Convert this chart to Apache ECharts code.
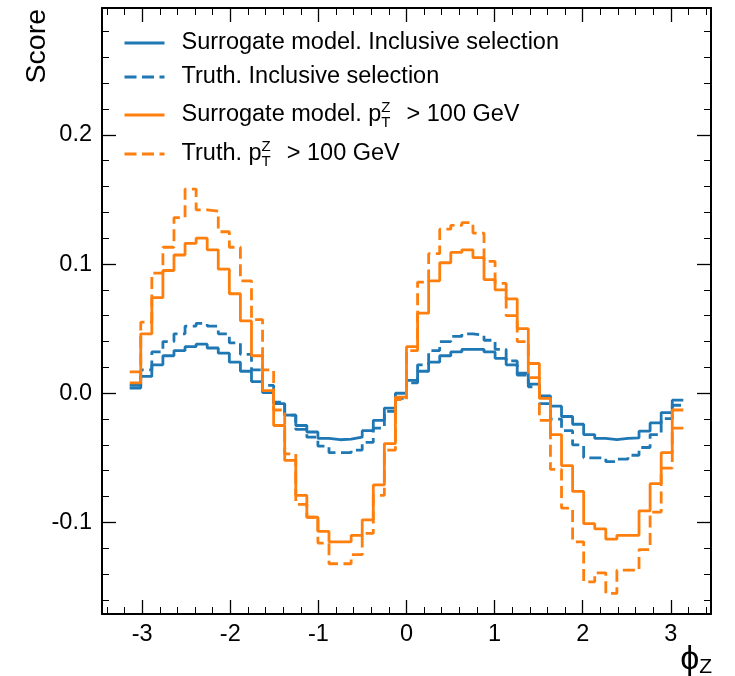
<!DOCTYPE html>
<html><head><meta charset="utf-8">
<script src="https://cdn.jsdelivr.net/npm/echarts@6/dist/echarts.min.js"></script>
<style>html,body{margin:0;padding:0;background:#fff}#c{width:735px;height:676px}</style>
</head><body><div id="c"></div>
<script>
// ---- data (50 bins on [-pi, pi]) ----
const nBins = 50;
const surrogateInclusive = [0.004,0.013,0.022,0.029,0.033,0.036,0.038,0.035,0.031,0.024,0.017,0.009,0.0005,-0.008,-0.017,-0.025,-0.030,-0.035,-0.036,-0.0355,-0.034,-0.029,-0.021,-0.0115,0.000,0.010,0.017,0.024,0.029,0.032,0.034,0.034,0.032,0.027,0.022,0.0155,0.007,-0.002,-0.010,-0.018,-0.024,-0.032,-0.035,-0.036,-0.035,-0.0346,-0.0294,-0.023,-0.015,-0.0054];
const truthInclusive = [0.006,0.018,0.032,0.040,0.046,0.052,0.054,0.052,0.046,0.039,0.030,0.018,0.006,-0.007,-0.017,-0.028,-0.034,-0.041,-0.046,-0.046,-0.044,-0.038,-0.027,-0.014,-0.004,0.008,0.022,0.033,0.040,0.044,0.046,0.045,0.041,0.034,0.025,0.014,0.005,-0.008,-0.020,-0.029,-0.040,-0.050,-0.050,-0.053,-0.051,-0.048,-0.042,-0.032,-0.0196,-0.0093];
const surrogateHighPt = [0.008,0.046,0.074,0.095,0.107,0.116,0.120,0.111,0.096,0.077,0.056,0.029,0.002,-0.025,-0.052,-0.079,-0.096,-0.107,-0.115,-0.115,-0.110,-0.098,-0.071,-0.039,-0.003,0.036,0.062,0.087,0.101,0.109,0.111,0.105,0.088,0.080,0.073,0.050,0.023,-0.004,-0.032,-0.056,-0.076,-0.101,-0.105,-0.113,-0.110,-0.110,-0.091,-0.070,-0.046,-0.013];
const truthHighPt = [0.0165,0.055,0.093,0.113,0.136,0.158,0.142,0.141,0.125,0.113,0.087,0.057,0.018,-0.013,-0.047,-0.086,-0.096,-0.116,-0.132,-0.132,-0.125,-0.1085,-0.079,-0.044,-0.005,0.033,0.086,0.108,0.127,0.130,0.132,0.124,0.102,0.085,0.060,0.040,0.012,-0.021,-0.059,-0.089,-0.115,-0.146,-0.139,-0.155,-0.137,-0.137,-0.121,-0.092,-0.058,-0.027];
const seriesNames = ['Surrogate model. Inclusive selection','Truth. Inclusive selection','Surrogate model. pTZ > 100 GeV','Truth. pTZ > 100 GeV'];
const legendLabels = ['Surrogate model. Inclusive selection','Truth. Inclusive selection','Surrogate model. p{z|Z}{t|T}{g|> 100 GeV}','Truth. p{z|Z}{t|T}{g|> 100 GeV}'];
const xMajorTicks = [-3,-2,-1,0,1,2,3];
const yMajorTicks = [-0.1,0.0,0.1,0.2];
const yTickLabels = ['-0.1','0.0','0.1','0.2'];

// ---- layout helpers ----
const FONT = 'Liberation Sans, Arial, Helvetica, sans-serif';
const FS = 23.5;
const xMin = -1.1*Math.PI, xMax = 1.1*Math.PI;
const yMin = -0.1709, yMax = 0.2982;
const edges = [];
for (let i=0;i<=nBins;i++) edges.push(-Math.PI + 2*Math.PI*i/nBins);
function hist(vals){ const p = vals.map((v,i)=>[edges[i],v]); p.push([edges[nBins], vals[nBins-1]]); return p; }
const xMinor = []; for (let k=-17;k<=17;k++){ if (k%5!==0) xMinor.push(+(k*0.2).toFixed(2)); }
const yMinor = []; for (let k=-8;k<=14;k++){ if (k%5!==0) yMinor.push(+(k*0.02).toFixed(3)); }

function xAx(pos, vals, len, label, line){
  return {type:'value', min:xMin, max:xMax, position:pos, gridIndex:0,
    axisLine:{show:line, onZero:false, lineStyle:{color:'#000', width:2}},
    axisTick:{show:true, inside:true, length:len, customValues:vals, lineStyle:{color:'#000', width:len>10?1.3:1}},
    axisLabel:label ? {show:true, customValues:xMajorTicks, formatter:v=>String(Math.round(v)), color:'#000', fontSize:FS, fontFamily:FONT, margin:9} : {show:false},
    splitLine:{show:false}};
}
function yAx(pos, vals, len, label, line){
  return {type:'value', min:yMin, max:yMax, position:pos, gridIndex:0,
    axisLine:{show:line, onZero:false, lineStyle:{color:'#000', width:2}},
    axisTick:{show:true, inside:true, length:len, customValues:vals, lineStyle:{color:'#000', width:len>10?1.3:1}},
    axisLabel:label ? {show:true, customValues:yMajorTicks, formatter:v=>{const i=yMajorTicks.findIndex(t=>Math.abs(t-v)<1e-9); return i>=0?yTickLabels[i]:'';}, color:'#000', fontSize:FS, fontFamily:FONT, margin:10} : {show:false},
    splitLine:{show:false}};
}

const BLUE = '#1f77b4', ORANGE = '#ff7f0e';
const DASH = [12,5.5];
const styles = [
  {color:BLUE, type:'solid', data:surrogateInclusive},
  {color:BLUE, type:DASH, data:truthInclusive},
  {color:ORANGE, type:'solid', data:surrogateHighPt},
  {color:ORANGE, type:DASH, data:truthHighPt}
];
const legendCenters = [43, 77, 115, 154];

const option = {
  animation:false,
  backgroundColor:'#fff',
  grid:{left:102, right:24, top:8, bottom:62, containLabel:false},
  xAxis:[xAx('bottom', xMajorTicks, 14, true, true), xAx('bottom', xMinor, 7, false, false), xAx('top', xMajorTicks, 14, false, true), xAx('top', xMinor, 7, false, false)],
  yAxis:[yAx('left', yMajorTicks, 14, true, true), yAx('left', yMinor, 7, false, false), yAx('right', yMajorTicks, 14, false, true), yAx('right', yMinor, 7, false, false)],
  legend: seriesNames.map((n,i)=>({
    data:[n], left:123, top:legendCenters[i]-15, orient:'vertical', padding:0, itemWidth:40, itemHeight:14, selectedMode:false,
    itemStyle:{opacity:0, borderWidth:0},
    lineStyle:{width:3, color:styles[i].color, type:styles[i].type},
    formatter: name => legendLabels[seriesNames.indexOf(name)],
    textStyle:{color:'#000', fontSize:FS, fontFamily:FONT, lineHeight:30, padding:[0,0,0,12],
      rich:{ z:{fontSize:15, fontFamily:FONT, color:'#000', verticalAlign:'top', lineHeight:14, width:0},
             t:{fontSize:15, fontFamily:FONT, color:'#000', verticalAlign:'bottom', lineHeight:16},
             g:{fontSize:FS, fontFamily:FONT, color:'#000', lineHeight:30, padding:[0,0,0,16]} }}
  })),
  series: styles.map((s,i)=>({
    name:seriesNames[i], type:'line', step:'end', xAxisIndex:0, yAxisIndex:0,
    data:hist(s.data), symbol:'none', showSymbol:false,
    lineStyle:{color:s.color, width:2.8, type:s.type}, itemStyle:{color:s.color}, z:2+i
  })),
  graphic:[
    {type:'text', x:37, y:9, rotation:Math.PI/2, style:{text:'Score', fontSize:28.5, fontFamily:FONT, fill:'#000', align:'right', verticalAlign:'middle'}},
    {type:'text', x:712, y:660, style:{text:'{p|ϕ}{s|Z}', align:'right', verticalAlign:'middle', fill:'#000',
      rich:{p:{fontSize:34, fontFamily:FONT, fill:'#000', lineHeight:36}, s:{fontSize:21, fontFamily:FONT, fill:'#000', verticalAlign:'bottom', lineHeight:26}}}}
  ]
};
const chart = echarts.init(document.getElementById('c'), null, {renderer:'canvas'});
chart.setOption(option);
</script></body></html>
